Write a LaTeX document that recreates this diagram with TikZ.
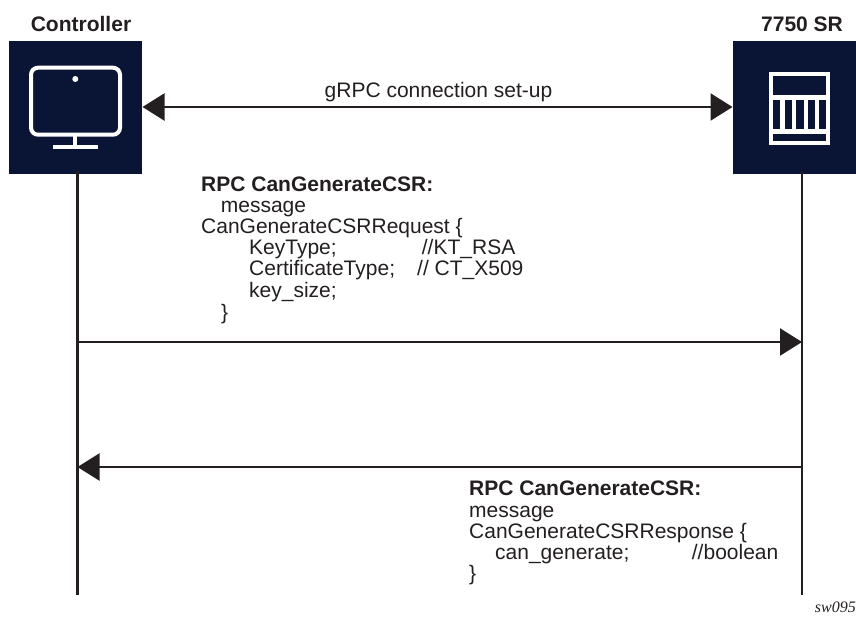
\documentclass[tikz,border=0pt]{standalone}
\usepackage{fontspec}
\setmainfont{Liberation Sans}
\newfontfamily\serifit{Liberation Serif}
\definecolor{navy}{HTML}{0A1435}
\definecolor{ink}{HTML}{231F20}
\usetikzlibrary{arrows.meta}
\tikzset{
  boxnode/.style={fill=navy,draw=none,minimum width=133pt,minimum height=133pt,inner sep=0pt,anchor=north west},
  lifeline/.style={draw=ink,line width=2.3pt},
  msg/.style={draw=ink,line width=2.3pt},
  tipr/.style={-{Triangle[length=22pt,width=27pt]}},
  tiplr/.style={{Triangle[length=22pt,width=27pt]}-{Triangle[length=22pt,width=27pt]}},
  icon/.style={draw=white,line width=4pt},
  txt/.style={text=ink,font=\fontsize{21}{22}\selectfont,inner sep=0pt,anchor=base west},
  boldtxt/.style={txt,font=\fontsize{21}{22}\selectfont\bfseries},
  head/.style={text=ink,font=\fontsize{21}{22}\selectfont\bfseries,inner sep=0pt,anchor=base},
}
\begin{document}
\begin{tikzpicture}[x=1pt,y=-1pt]
\useasboundingbox (0,0) rectangle (856,616);
\node[boxnode] (ctrl) at (9,41) {};
\fill[navy] (732.5,41) rectangle (856,174);
\coordinate (srW) at (732.5,107);
\coordinate (srS) at (802,171);
\coordinate (ctrlE) at (142.5,107);
\coordinate (ctrlS) at (77.5,171);
\coordinate (ctrlEnd) at (77.5,595);
\coordinate (srEnd) at (802,595);
\coordinate (reqL) at (77.5,342);
\coordinate (reqR) at (802,342);
\coordinate (respR) at (802,467);
\coordinate (respL) at (77.5,467);
% monitor
\draw[icon,rounded corners=7pt] (31,67.7) rectangle (120,134.7);
\fill[white] (75.3,79) circle (3pt);
\draw[white,line width=4.2pt] (75.2,134.7) -- (75.2,146);
\fill[white] (53.3,144.7) rectangle (97.7,149);
% router
\draw[icon] (771,74) rectangle (828,143);
\draw[white,line width=4.5pt] (771,97.5) -- (828,97.5);
\draw[white,line width=4.5pt] (771,131.5) -- (828,131.5);
\foreach \x in {782.5,794,805.8,817} \draw[white,line width=4.3pt] (\x,97.5) -- (\x,131.5);
% lines
\draw[lifeline] (ctrlS) -- (ctrlEnd);
\draw[lifeline] (srS) -- (srEnd);
\draw[msg,tiplr] (ctrlE) -- (srW);
\draw[msg,tipr] (reqL) -- (reqR);
\draw[msg,tipr] (respR) -- (respL);
% labels
\node[head] (l1) at (81,31) {Controller};
\node[head] (l2) at (802,31) {7750 SR};
\node[txt,anchor=base] (l3) at (438.5,97) {gRPC connection set-up};
\node[boldtxt] (a1) at (201,191) {RPC CanGenerateCSR:};
\node[txt] (a2) at (220.7,212.3) {message};
\node[txt] (a3) at (201,233.7) {CanGenerateCSRRequest \{};
\node[txt] (a4) at (249,254.5) {KeyType;};
\node[txt] (a4b) at (421.7,254.5) {//KT\_RSA};
\node[txt] (a5) at (249,275.5) {CertificateType;};
\node[txt] (a5b) at (417,275.5) {// CT\_X509};
\node[txt] (a6) at (249,297) {key\_size;};
\node[txt] (a7) at (221,319) {\}};
\node[boldtxt] (b1) at (469,495.5) {RPC CanGenerateCSR:};
\node[txt] (b2) at (469,517) {message};
\node[txt] (b3) at (469,538) {CanGenerateCSRResponse \{};
\node[txt] (b4) at (495,559.5) {can\_generate;};
\node[txt] (b4b) at (691.7,559.5) {//boolean};
\node[txt] (b5) at (469,580.5) {\}};
\node[text=ink,inner sep=0pt,anchor=base east,font=\fontsize{16}{17}\selectfont\serifit\itshape] (sw) at (856,612) {sw095};
\end{tikzpicture}
\end{document}
